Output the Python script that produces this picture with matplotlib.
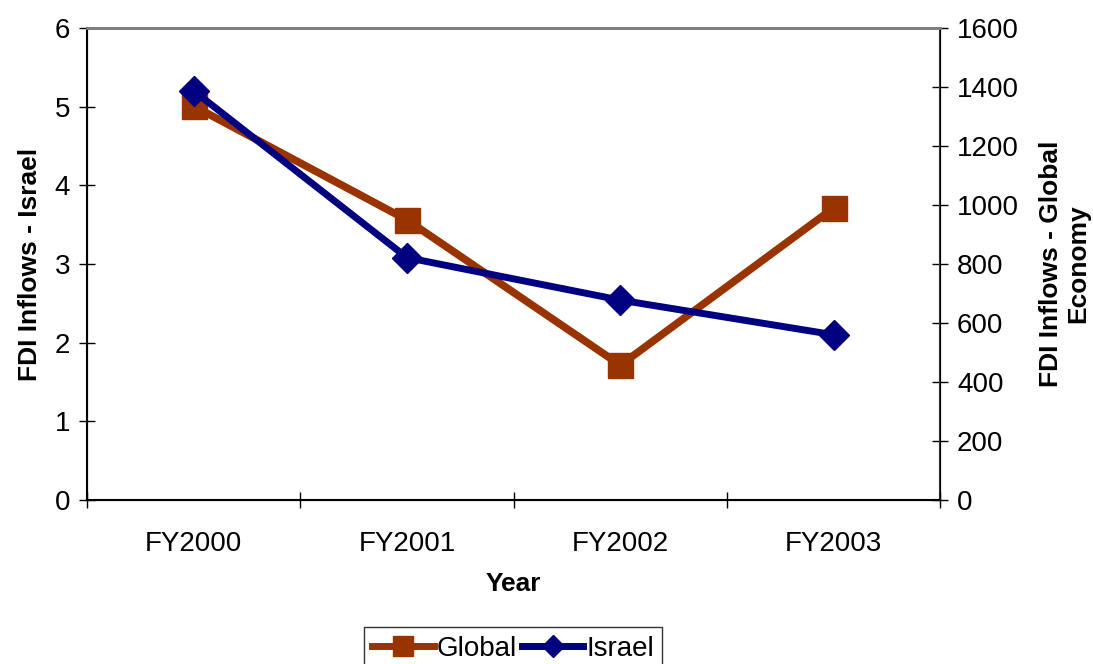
import matplotlib.pyplot as plt
from matplotlib.lines import Line2D

plt.rcParams['font.family'] = ['Liberation Sans', 'DejaVu Sans']

years = ["FY2000", "FY2001", "FY2002", "FY2003"]
israel = [5.2, 3.08, 2.54, 2.1]
global_economy = [1335, 949, 457, 990]

orange = "#993300"
navy = "#000080"
fs = 20
lfs = 19

fig = plt.figure(figsize=(10.93, 6.64), dpi=100)
ax = fig.add_axes([0.0796, 0.247, 0.7808, 0.711])
ax2 = ax.twinx()

x = list(range(len(years)))
ax2.plot(x, global_economy, color=orange, lw=5.5, marker='s', ms=18,
         solid_joinstyle='miter', zorder=2)
ax.plot(x, israel, color=navy, lw=5, marker='D', ms=15, zorder=3)
ax.set_zorder(ax2.get_zorder() + 1)
ax.patch.set_visible(False)

ax.set_xlim(-0.5, 3.5)
ax.set_ylim(0, 6)
ax2.set_ylim(0, 1600)
ax.set_yticks(range(0, 7))
ax2.set_yticks(range(0, 1601, 200))

ax.set_xticks([-0.5, 0.5, 1.5, 2.5, 3.5])
ax.set_xticklabels([])
ax.set_xticks(x, minor=True)
ax.set_xticklabels(years, minor=True)
ax.tick_params(axis='x', which='minor', length=0, pad=22, labelsize=fs)
ax.tick_params(axis='x', which='major', direction='inout', length=12, width=1)
ax.tick_params(axis='y', direction='inout', length=12, width=1, labelsize=fs, pad=6)
ax2.tick_params(axis='y', direction='inout', length=12, width=1, labelsize=fs, pad=6)

for a in (ax, ax2):
    a.spines['top'].set_color('#808080')
    a.spines['top'].set_linewidth(2)
ax.spines['left'].set_linewidth(1.5)
ax.spines['bottom'].set_linewidth(1.5)
ax2.spines['right'].set_linewidth(1.5)
ax2.spines['right'].set_color('#333333')

ax.set_xlabel("Year", fontsize=lfs, fontweight='bold', labelpad=11)
ax.set_ylabel("FDI Inflows - Israel", fontsize=lfs, fontweight='bold', labelpad=9)
ax2.set_ylabel("FDI Inflows - Global\nEconomy", fontsize=lfs, fontweight='bold',
               labelpad=14, linespacing=1.2)

handles = [Line2D([], [], color=orange, lw=5, marker='s', ms=14),
           Line2D([], [], color=navy, lw=5, marker='D', ms=11)]
leg = fig.legend(handles, ["Global", "Israel"], loc='lower center',
                 bbox_to_anchor=(0.4695, -0.03), ncol=2, fontsize=fs,
                 frameon=True, fancybox=False, edgecolor='black',
                 handlelength=2.2, handletextpad=0.1, columnspacing=0.2,
                 borderpad=0.3)
leg.get_frame().set_linewidth(1)

fig.savefig("out.png", dpi=100)
